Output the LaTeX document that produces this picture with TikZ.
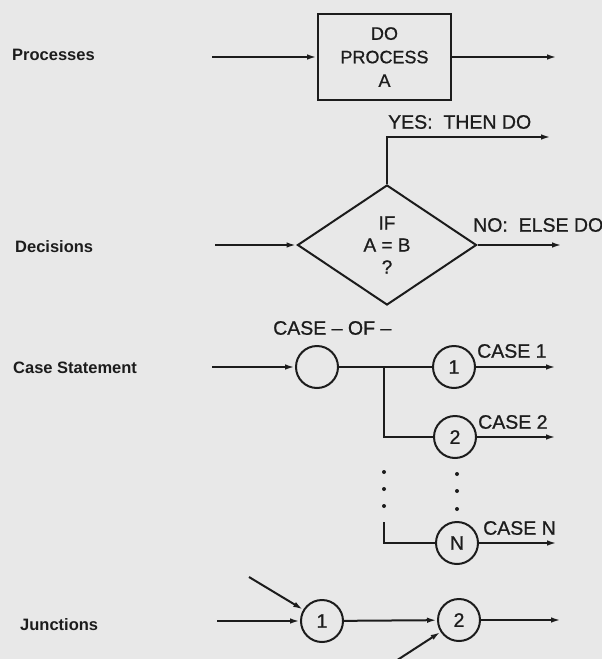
\documentclass[tikz,border=0pt]{standalone}
\usepackage{fontspec}
\setmainfont{Liberation Sans}
\newfontfamily\diagfont[FakeBold=0.8,Ligatures=TeX]{Liberation Sans}
\usetikzlibrary{shapes.geometric,arrows.meta}
\definecolor{ink}{HTML}{1C1C1C}
\definecolor{paper}{HTML}{E8E8E8}
\tikzset{
  x=1pt, y=-1pt,
  conn/.style={draw=ink, line width=2pt},
  arr/.style={conn, -{Latex[length=10pt,width=5.5pt]}},
  dtxt/.style={text=ink, font=\diagfont\fontsize{19.5}{23}\selectfont, inner sep=0pt},
  lbl/.style={text=ink, font=\fontsize{16.5}{20}\selectfont\bfseries, anchor=west, inner sep=0pt},
  procbox/.style={draw=ink, line width=2pt, minimum width=133pt, minimum height=86pt, inner sep=0pt, align=center, dtxt, font=\diagfont\fontsize{18}{23.5}\selectfont},
  decbox/.style={diamond, draw=ink, line width=2pt, minimum width=179pt, minimum height=120pt, aspect=1.49, inner sep=0pt, align=center, dtxt, font=\diagfont\fontsize{19}{22}\selectfont},
  junc/.style={circle, draw=ink, line width=2pt, minimum size=42pt, inner sep=0pt, dtxt},
  dotmark/.style={fill=ink, circle, inner sep=0pt, minimum size=4pt}
}
\begin{document}
\begin{tikzpicture}
\fill[paper] (0,0) rectangle (602,659);
\useasboundingbox (0,0) rectangle (602,659);

% left labels
\node[lbl] (lp) at (12,55) {Processes};
\node[lbl] (ld) at (15,247) {Decisions};
\node[lbl] (lc) at (13,368) {Case Statement};
\node[lbl] (lj) at (20,625) {Junctions};

% Processes
\node[procbox] (proc) at (384.5,57) {DO\\PROCESS\\A};
\coordinate (pin) at (212,57);
\coordinate (pout) at (557,57);
\draw[arr] (pin) -- (proc.west);
\draw[arr] (proc.east) -- (pout);

% Decisions
\node[decbox] (dec) at (387,245) {IF\\A = B\\?};
\coordinate (din) at (215,245);
\coordinate (yend) at (551,137);
\coordinate (nend) at (562,245);
\draw[arr] (din) -- (dec.west);
\draw[arr] (dec.north) |- (yend);
\draw[arr] (dec.east) -- (nend);
\node[dtxt, anchor=west] (yes) at (388,122) {YES:\ \ THEN DO};
\node[dtxt, anchor=west] (no) at (473,225) {NO:\ \ ELSE DO};

% Case statement
\node[junc] (c0) at (317,367) {};
\node[junc] (c1) at (454,367) {1};
\node[junc] (c2) at (455,437) {2};
\node[junc] (cN) at (457,543) {N};
\node[dtxt, anchor=west] (caseof) at (273,328) {CASE – OF –};
\coordinate (cin) at (212,367);
\coordinate (br) at (384,367);
\coordinate (brN) at (384,522);
\coordinate (c1out) at (556,367);
\coordinate (c2out) at (556,437);
\coordinate (cNout) at (557,543);
\draw[arr] (cin) -- (c0);
\draw[conn] (c0) -- (c1);
\draw[conn] (br) |- (c2);
\draw[conn] (brN) |- (cN);
\draw[arr] (c1) -- (c1out);
\draw[arr] (c2) -- (c2out);
\draw[arr] (cN) -- (cNout);
\node[dtxt, anchor=west] (k1) at (477,351) {CASE 1};
\node[dtxt, anchor=west] (k2) at (478,422) {CASE 2};
\node[dtxt, anchor=west] (kN) at (483,528) {CASE N};
\node[dotmark] (d1) at (384,472) {};
\node[dotmark] (d2) at (384,489) {};
\node[dotmark] (d3) at (384,506) {};
\node[dotmark] (d4) at (457,474) {};
\node[dotmark] (d5) at (457,491) {};
\node[dotmark] (d6) at (457,509) {};

% Junctions
\node[junc] (j1) at (322,621) {1};
\node[junc] (j2) at (459,620) {2};
\coordinate (jin) at (217,621);
\coordinate (jdiag1) at (249,577);
\coordinate (jdiag2) at (385,668);
\coordinate (jout) at (561,620);
\draw[arr] (jin) -- (j1);
\draw[arr] (jdiag1) -- (j1);
\draw[arr] (j1) -- (j2);
\draw[arr] (jdiag2) -- (j2);
\draw[arr] (j2) -- (jout);
\end{tikzpicture}
\end{document}
